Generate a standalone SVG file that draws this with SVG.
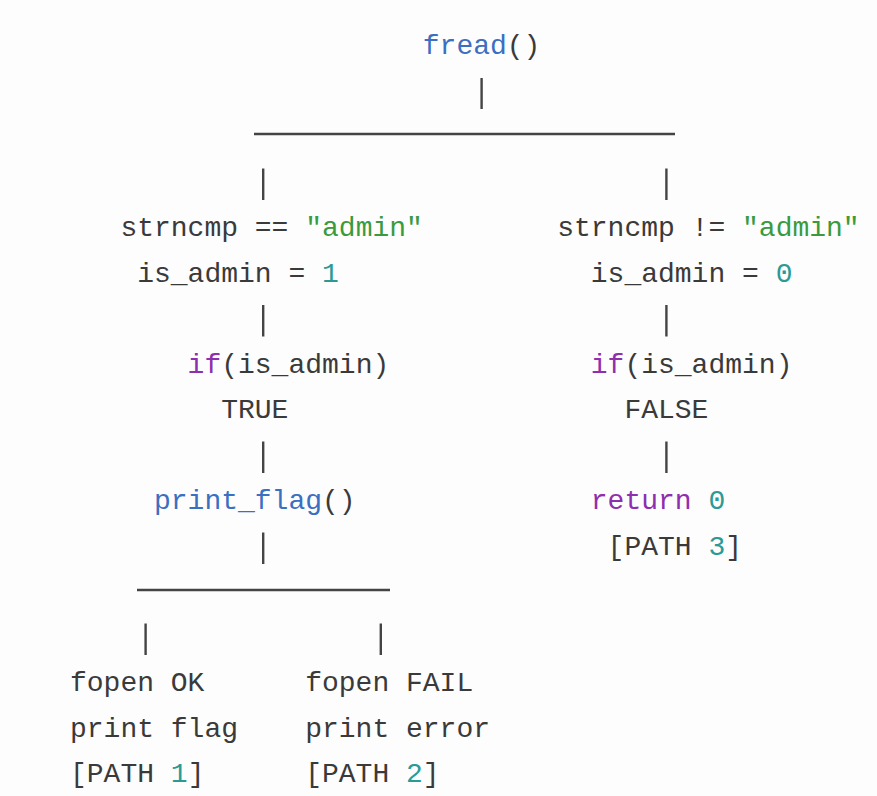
<svg xmlns="http://www.w3.org/2000/svg" width="877" height="796" viewBox="0 0 877 796" xml:space="preserve">
  <style>
    text { font-family: "Liberation Mono", "DejaVu Sans Mono", monospace; font-size: 28px; fill: #3a3a3a; }
    .fn { fill: #3b6fc2; }
    .str { fill: #3a9a3e; }
    .num { fill: #2b9a96; }
    .kw { fill: #8e2fad; }
    .wire { stroke: #444444; stroke-width: 2.4; fill: none; stroke-linecap: butt; }
  </style>
  <rect width="877" height="796" fill="#fdfdfd"/>

  <!-- tree connectors: vertical stems and horizontal branch bars -->
  <g id="connectors" class="wire">
    <line x1="481.6" y1="78" x2="481.6" y2="109"/>
    <line x1="254" y1="134" x2="675" y2="134"/>
    <line x1="263.2" y1="168.5" x2="263.2" y2="200"/>
    <line x1="666.4" y1="168.5" x2="666.4" y2="200"/>
    <line x1="263.2" y1="305" x2="263.2" y2="336.5"/>
    <line x1="666.4" y1="305" x2="666.4" y2="336.5"/>
    <line x1="263.2" y1="441.5" x2="263.2" y2="473"/>
    <line x1="666.4" y1="441.5" x2="666.4" y2="473"/>
    <line x1="263.2" y1="532.5" x2="263.2" y2="564"/>
    <line x1="137" y1="590" x2="390" y2="590"/>
    <line x1="145.6" y1="623.5" x2="145.6" y2="655"/>
    <line x1="380.8" y1="623.5" x2="380.8" y2="655"/>
  </g>

  <g id="node-fread">
    <text x="422.8" y="54"><tspan class="fn">fread</tspan>()</text>
  </g>

  <g id="node-match">
    <text x="120.4" y="236">strncmp == <tspan class="str">"admin"</tspan></text>
    <text x="137.2" y="281.5">is_admin = <tspan class="num">1</tspan></text>
  </g>

  <g id="node-nomatch">
    <text x="557.2" y="236">strncmp != <tspan class="str">"admin"</tspan></text>
    <text x="590.8" y="281.5">is_admin = <tspan class="num">0</tspan></text>
  </g>

  <g id="node-if-true">
    <text x="187.6" y="372.5"><tspan class="kw">if</tspan>(is_admin)</text>
    <text x="221.2" y="418">TRUE</text>
  </g>

  <g id="node-if-false">
    <text x="590.8" y="372.5"><tspan class="kw">if</tspan>(is_admin)</text>
    <text x="624.4" y="418">FALSE</text>
  </g>

  <g id="node-print-flag">
    <text x="154" y="509"><tspan class="fn">print_flag</tspan>()</text>
  </g>

  <g id="node-return">
    <text x="590.8" y="509"><tspan class="kw">return</tspan> <tspan class="num">0</tspan></text>
    <text x="607.6" y="554.5">[PATH <tspan class="num">3</tspan>]</text>
  </g>

  <g id="node-fopen-ok">
    <text x="70" y="691">fopen OK</text>
    <text x="70" y="736.5">print flag</text>
    <text x="70" y="782">[PATH <tspan class="num">1</tspan>]</text>
  </g>

  <g id="node-fopen-fail">
    <text x="305.2" y="691">fopen FAIL</text>
    <text x="305.2" y="736.5">print error</text>
    <text x="305.2" y="782">[PATH <tspan class="num">2</tspan>]</text>
  </g>
</svg>
